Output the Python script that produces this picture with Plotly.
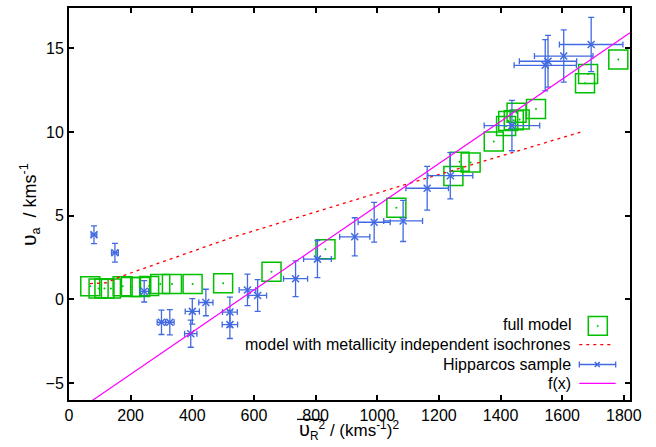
import plotly.graph_objects as go

# ---- data ----
model_x = [69, 96, 115, 136, 174, 201, 231, 260, 296, 334, 401, 500, 657, 832, 1062,
           1247, 1267, 1303, 1378, 1418, 1425, 1443, 1452, 1462, 1515, 1674, 1684, 1782]
model_y = [0.79, 0.65, 0.65, 0.65, 0.79, 0.75, 0.75, 0.8, 0.93, 0.93, 0.93, 0.97, 1.66, 3.0, 5.48,
           7.37, 8.22, 8.18, 9.43, 10.35, 10.65, 10.7, 11.15, 10.75, 11.37, 12.91, 13.46, 14.33]

iso_x = [68, 123, 160, 522, 1073, 1554, 1669]
iso_y = [0.95, 1.0, 1.32, 3.66, 6.76, 9.37, 10.04]

hip_x = [81, 149, 244, 300, 327, 400, 395, 444, 522, 522, 579, 612, 735, 806, 927, 990,
         1084, 1162, 1237, 1437, 1545, 1554, 1605, 1694]
hip_y = [3.86, 2.79, 0.49, -1.36, -1.36, -0.71, -2.04, -0.18, -0.75, -1.5, 0.57, 0.24, 1.24,
         2.41, 3.74, 4.61, 4.69, 6.64, 7.39, 10.38, 13.98, 14.22, 14.53, 15.22]
hip_xerr = [9, 11, 14, 14, 14, 23, 20, 23, 24, 25, 27, 29, 39, 45, 49, 52, 63, 69, 73, 90,
            101, 93, 95, 103]
hip_yerr = [0.53, 0.56, 0.64, 0.73, 0.75, 0.76, 0.81, 0.79, 0.89, 0.83, 0.94, 0.95, 1.07,
            1.11, 1.14, 1.19, 1.23, 1.31, 1.38, 1.5, 1.53, 1.54, 1.56, 1.62]

fit_slope = 0.01258
fit_intercept = -6.98

x_range = [0, 1820]
y_range = [-6, 17.4]
x_ticks = [0, 200, 400, 600, 800, 1000, 1200, 1400, 1600, 1800]
y_ticks = [-5, 0, 5, 10, 15]

legend_labels = ["full model", "model with metallicity independent isochrones",
                 "Hipparcos sample", "f(x)"]

GREEN = "#00c000"
RED = "#ff0000"
BLUE = "#4169e1"
MAGENTA = "#ff00ff"
FONT = "Liberation Sans, Arial, sans-serif"

fig = go.Figure()

fig.add_trace(go.Scatter(x=model_x, y=model_y, mode="markers",
                         marker=dict(symbol="square-open", size=19,
                                     line=dict(color=GREEN, width=1.5), color=GREEN),
                         showlegend=False))
fig.add_trace(go.Scatter(x=model_x, y=model_y, mode="markers",
                         marker=dict(symbol="circle", size=2, color=GREEN),
                         showlegend=False))
fig.add_trace(go.Scatter(x=iso_x, y=iso_y, mode="lines",
                         line=dict(color=RED, width=1.3, dash="3px,4px"),
                         showlegend=False))
fig.add_trace(go.Scatter(x=hip_x, y=hip_y, mode="markers",
                         marker=dict(symbol="x-thin", size=7,
                                     line=dict(color=BLUE, width=1.5), color=BLUE),
                         error_x=dict(type="data", array=hip_xerr, color=BLUE,
                                      thickness=1.3, width=3),
                         error_y=dict(type="data", array=hip_yerr, color=BLUE,
                                      thickness=1.3, width=3),
                         showlegend=False))
fx = [x_range[0], x_range[1]]
fy = [fit_slope * v + fit_intercept for v in fx]
fig.add_trace(go.Scatter(x=fx, y=fy, mode="lines",
                         line=dict(color=MAGENTA, width=1.2), showlegend=False))

# ---- plot geometry (pixels) ----
W, H = 656, 447
L, R, T, B = 69, 26, 6, 47
pw, ph = W - L - R, H - T - B


def px(x):
    return (x - L) / pw


def py(y):
    return (H - B - y) / ph


shapes = []
annotations = []
rows = [324.5, 344.3, 364.3, 383.3]
for lab, ry in zip(legend_labels, rows):
    annotations.append(dict(text=lab, xref="paper", yref="paper", x=px(573), y=py(ry),
                            xanchor="right", yanchor="middle", showarrow=False,
                            font=dict(size=16, family=FONT, color="black")))
# full model sample
shapes.append(dict(type="rect", xref="paper", yref="paper", x0=px(588.3), x1=px(607.3),
                   y0=py(335), y1=py(316), line=dict(color=GREEN, width=1.5)))
shapes.append(dict(type="circle", xref="paper", yref="paper", x0=px(597), x1=px(598.5),
                   y0=py(326.3), y1=py(324.8), line=dict(color=GREEN, width=0.5),
                   fillcolor=GREEN))
# red sample
shapes.append(dict(type="line", xref="paper", yref="paper", x0=px(579.3), x1=px(612),
                   y0=py(rows[1]), y1=py(rows[1]),
                   line=dict(color=RED, width=1.3, dash="3px,4px")))
# Hipparcos sample
hy0 = rows[2]
shapes.append(dict(type="line", xref="paper", yref="paper", x0=px(579.3), x1=px(615.7),
                   y0=py(hy0), y1=py(hy0), line=dict(color=BLUE, width=1.3)))
for cx in (579.3, 615.7):
    shapes.append(dict(type="line", xref="paper", yref="paper", x0=px(cx), x1=px(cx),
                       y0=py(hy0 - 3), y1=py(hy0 + 3), line=dict(color=BLUE, width=1.3)))
shapes.append(dict(type="line", xref="paper", yref="paper", x0=px(594.8), x1=px(599.8),
                   y0=py(hy0 - 2.5), y1=py(hy0 + 2.5), line=dict(color=BLUE, width=1.5)))
shapes.append(dict(type="line", xref="paper", yref="paper", x0=px(594.8), x1=px(599.8),
                   y0=py(hy0 + 2.5), y1=py(hy0 - 2.5), line=dict(color=BLUE, width=1.5)))
# f(x) sample
shapes.append(dict(type="line", xref="paper", yref="paper", x0=px(579.3), x1=px(615.7),
                   y0=py(rows[3]), y1=py(rows[3]), line=dict(color=MAGENTA, width=1.2)))

# axis titles
annotations.append(dict(
    text="<span style='font-size:21px'>υ</span><sub>a</sub>\u00a0\u00a0/\u00a0kms<sup>-1</sup>",
    xref="paper", yref="paper", x=px(30), y=py(204), textangle=-90, showarrow=False,
    xanchor="center", yanchor="middle", font=dict(size=18, family=FONT, color="black")))
annotations.append(dict(
    text="<span style='font-size:20px'>υ</span><sub>R</sub><sup>2</sup>\u00a0/\u00a0(kms<sup>-1</sup>)<sup>2</sup>",
    xref="paper", yref="paper", x=px(349), y=py(431), showarrow=False,
    xanchor="center", yanchor="middle", font=dict(size=17, family=FONT, color="black")))
shapes.append(dict(type="line", xref="paper", yref="paper", x0=px(297), x1=px(323),
                   y0=py(419.5), y1=py(419.5), line=dict(color="black", width=1.3)))

axis_common = dict(showline=True, linecolor="black", linewidth=2, mirror="ticks",
                   ticks="inside", ticklen=5, tickwidth=1.5, tickcolor="black",
                   showgrid=False, zeroline=False,
                   tickfont=dict(size=16, family=FONT, color="black"))

fig.update_layout(
    width=W, height=H,
    margin=dict(l=L, r=R, t=T, b=B),
    plot_bgcolor="white", paper_bgcolor="white",
    xaxis=dict(range=x_range, tickvals=x_ticks, **axis_common),
    yaxis=dict(range=y_range, tickvals=y_ticks, **axis_common),
    shapes=shapes, annotations=annotations, showlegend=False,
)

fig.write_html("out.html", config={"displayModeBar": False},
               post_script="document.body.style.margin='0';")
